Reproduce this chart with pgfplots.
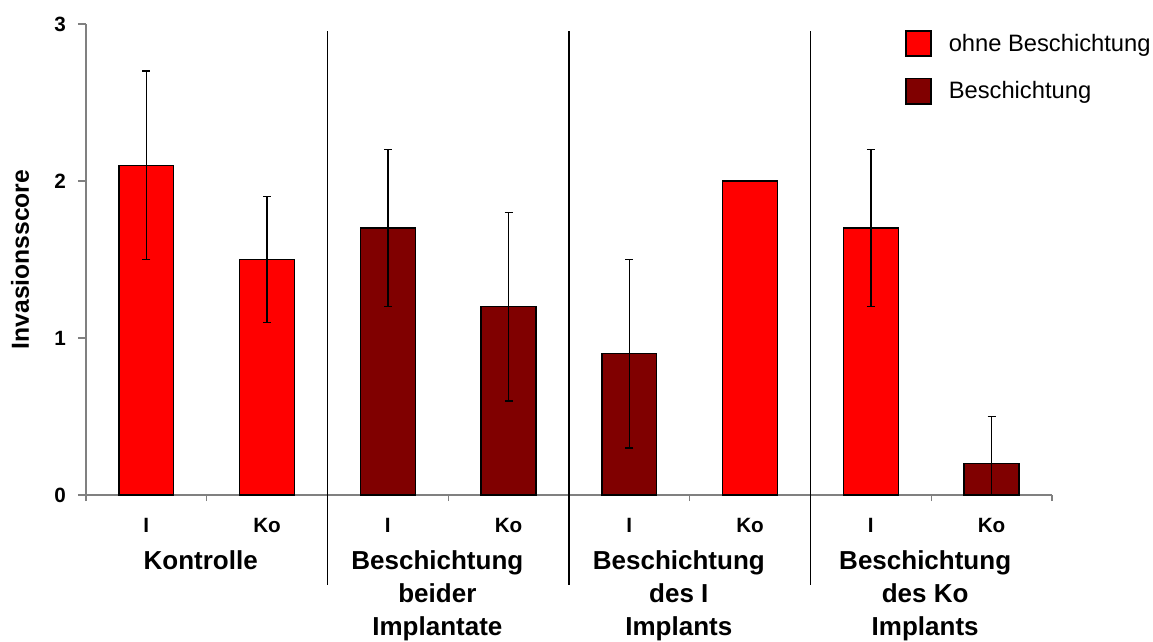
\documentclass[border=0pt]{standalone}
\usepackage{fontspec}
\setmainfont{Liberation Sans}
\usepackage{pgfplots}
\usepackage{pgfplotstable}
\pgfplotsset{compat=1.18}
\definecolor{hellrot}{HTML}{FF0000}
\definecolor{dunkelrot}{HTML}{800000}
\definecolor{achse}{HTML}{808080}

% Invasionsscore: Mittelwert, Fehler nach oben / unten
\pgfplotstableread{
x  y    ep   em
0  2.1  0.6  0.6
1  1.5  0.4  0.4
5  2.0  0.0  0.0
6  1.7  0.5  0.5
}\ohne
\pgfplotstableread{
x  y    ep   em
2  1.7  0.5  0.5
3  1.2  0.6  0.6
4  0.9  0.6  0.6
7  0.2  0.3  0.2
}\mit

\begin{document}
\begin{tikzpicture}
\begin{axis}[
  scale only axis,
  width=724.5pt, height=353.25pt,
  xmin=-0.5, xmax=7.5, ymin=0, ymax=3,
  axis x line=bottom, axis y line=left,
  axis line style={-, achse, line width=1pt},
  tick align=outside,
  ytick={0,1,2,3},
  major tick length=6pt,
  minor tick length=4.5pt,
  y tick style={achse, line width=1pt},
  xtick={0,...,7},
  xticklabels={I,Ko,I,Ko,I,Ko,I,Ko},
  major x tick style={draw=none},
  minor xtick={-0.5,0.5,...,7.5},
  minor x tick style={achse, line width=1pt},
  /pgf/number format/assume math mode=true,
  yticklabel style={font=\bfseries\fontsize{15.5}{15.5}\selectfont, xshift=-5.5pt},
  xticklabel style={font=\bfseries\fontsize{15.5}{15.5}\selectfont, anchor=base, yshift=-22pt},
  ylabel={Invasionsscore},
  ylabel style={font=\bfseries\fontsize{18.5}{18.5}\selectfont, at={(axis description cs:-0.0683,0.5)}, anchor=center},
  clip=false,
  legend style={at={(rel axis cs:0.848,0.987)}, anchor=north west, draw=none, fill=none,
    font=\fontsize{17.8}{17.8}\selectfont, inner sep=0pt, row sep=16pt,
    nodes={inner sep=0pt}, /tikz/every odd column/.append style={column sep=12.75pt}},
  legend cell align=left,
  legend image code/.code={\draw[#1] (0pt,-9.4pt) rectangle (18.75pt,9.4pt);},
  error bars/error bar style={black, line width=1.1pt},
  error bars/error mark options={rotate=90, black, line width=1.1pt, mark size=3pt},
]
\addplot[ybar, bar width=0.455, bar shift=0pt, fill=hellrot, draw=black, line width=1pt,
  error bars/.cd, y dir=both, y explicit]
  table[x=x, y=y, y error plus=ep, y error minus=em]{\ohne};
\addlegendentry{ohne Beschichtung}
\addplot[ybar, bar width=0.455, bar shift=0pt, fill=dunkelrot, draw=black, line width=1pt,
  error bars/.cd, y dir=both, y explicit]
  table[x=x, y=y, y error plus=ep, y error minus=em]{\mit};
\addlegendentry{Beschichtung}

% Trennlinien zwischen den Gruppen
\addplot[black, line width=1.2pt, forget plot] coordinates {(1.5,2.955) (1.5,-0.573)};
\addplot[black, line width=1.2pt, forget plot] coordinates {(3.5,2.955) (3.5,-0.573)};
\addplot[black, line width=1.2pt, forget plot] coordinates {(5.5,2.955) (5.5,-0.573)};

% Gruppenbeschriftungen
\begin{scope}[every node/.style={anchor=north, inner sep=0pt, align=center, font=\bfseries\fontsize{19.5}{25}\selectfont}]
\node at (axis cs:0.45,-0.350) {Kontrolle};
\node at (axis cs:2.41,-0.350) {Beschichtung\\beider\\Implantate};
\node at (axis cs:4.41,-0.350) {Beschichtung\\des I\\Implants};
\node at (axis cs:6.45,-0.350) {Beschichtung\\des Ko\\Implants};
\end{scope}

\coordinate (bbsw) at (rel axis cs:-0.0890,-0.310);
\coordinate (bbne) at (rel axis cs:1.1046,1.0510);
\end{axis}
\pgfresetboundingbox
\useasboundingbox (bbsw) rectangle (bbne);
\end{tikzpicture}
\end{document}
